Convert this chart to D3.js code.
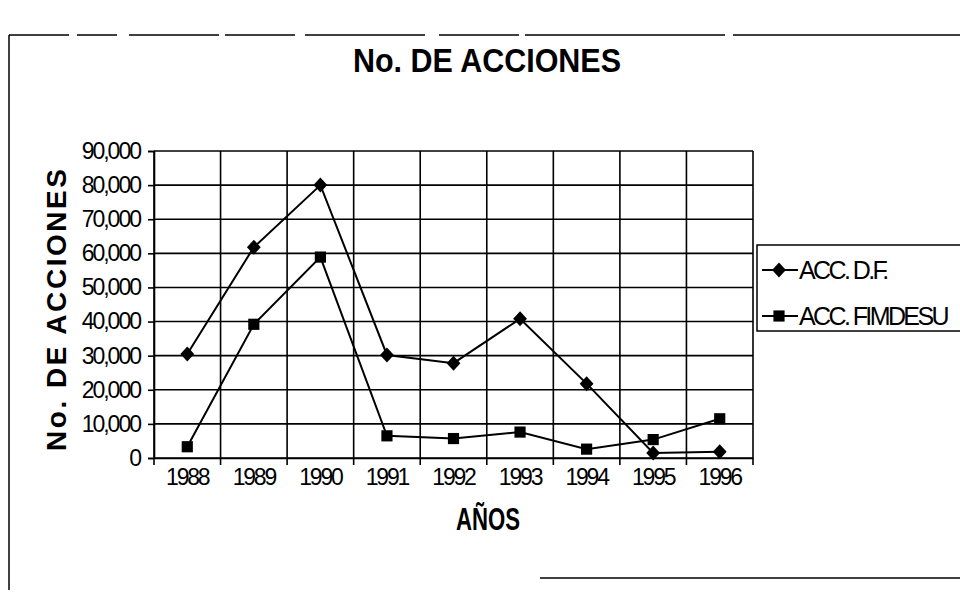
<!DOCTYPE html>
<html>
<head>
<meta charset="utf-8">
<script src="https://cdn.jsdelivr.net/npm/d3@7/dist/d3.min.js"></script>
<style>
  html, body { margin: 0; padding: 0; background: #fff; }
  svg { display: block; }
  text { font-family: "Liberation Sans", Arial, sans-serif; fill: #000; }
</style>
</head>
<body>
<svg id="chart" width="960" height="600"></svg>
<script>
// Years on the category axis
const years = ["1988", "1989", "1990", "1991", "1992", "1993", "1994", "1995", "1996"];
// Number of actions per year
const accDF = [30500, 61800, 80000, 30200, 27800, 40800, 21800, 1500, 1800];
const accFimdesu = [3300, 39200, 58900, 6500, 5700, 7600, 2600, 5400, 11500];
const seriesNames = ["ACC. D.F.", "ACC. FIMDESU"];
const yTicks = [0, 10000, 20000, 30000, 40000, 50000, 60000, 70000, 80000, 90000];

const svg = d3.select("#chart");
const plot = { left: 154, right: 753, top: 151, bottom: 458 };

const x = d3.scaleBand().domain(years).range([plot.left, plot.right]).padding(0);
const y = d3.scaleLinear().domain([0, 90000]).range([plot.bottom, plot.top]);

// Outer chart frame
const frame = svg.append("g").attr("stroke", "#000").attr("fill", "none").attr("stroke-width", 1.5);
frame.append("line").attr("x1", 9).attr("x2", 960).attr("y1", 35).attr("y2", 35)
  .attr("stroke-dasharray", "60 8 40 12 90 6 70 10 120 14 80 6 200 8 260");
frame.append("line").attr("x1", 9).attr("x2", 9).attr("y1", 35).attr("y2", 590);
frame.append("line").attr("x1", 540).attr("x2", 960).attr("y1", 578).attr("y2", 578);

// Title
svg.append("text").attr("x", 487).attr("y", 72).attr("text-anchor", "middle")
  .attr("font-size", 34).attr("font-weight", "bold")
  .attr("textLength", 268).attr("lengthAdjust", "spacingAndGlyphs")
  .text("No. DE ACCIONES");

// Horizontal gridlines
svg.append("g").selectAll("line").data(yTicks).join("line")
  .attr("x1", plot.left).attr("x2", plot.right)
  .attr("y1", d => y(d)).attr("y2", d => y(d))
  .attr("stroke", "#000").attr("stroke-width", 1.6);

// Vertical gridlines at category boundaries
const bounds = years.map(d => x(d)).concat([plot.right]);
svg.append("g").selectAll("line").data(bounds).join("line")
  .attr("x1", d => d).attr("x2", d => d)
  .attr("y1", plot.top).attr("y2", plot.bottom)
  .attr("stroke", "#000").attr("stroke-width", 1.6);

// Y axis
const yAxis = svg.append("g").attr("transform", `translate(${plot.left},0)`)
  .call(d3.axisLeft(y).tickValues(yTicks).tickSize(6).tickPadding(8)
    .tickFormat(d3.format(",")));
yAxis.select(".domain").attr("stroke-width", 1.6);
yAxis.selectAll(".tick line").attr("stroke-width", 1.6);
yAxis.selectAll("text").attr("font-size", 23).attr("letter-spacing", -2)
  .attr("font-family", "'Liberation Sans', Arial, sans-serif");

// X axis: ticks on category boundaries, labels centred on categories
const xAxis = svg.append("g").attr("transform", `translate(0,${plot.bottom})`)
  .call(d3.axisBottom(x).tickSize(0).tickPadding(2));
xAxis.select(".domain").attr("stroke-width", 1.6);
xAxis.selectAll("text").attr("font-size", 23).attr("letter-spacing", -2.2)
  .attr("dy", "1.1em")
  .attr("font-family", "'Liberation Sans', Arial, sans-serif");
svg.append("g").selectAll("line").data(bounds).join("line")
  .attr("x1", d => d).attr("x2", d => d)
  .attr("y1", plot.bottom).attr("y2", plot.bottom + 7)
  .attr("stroke", "#000").attr("stroke-width", 1.6);

// Axis titles
svg.append("text").attr("x", 488).attr("y", 530).attr("text-anchor", "middle")
  .attr("font-size", 31).attr("font-weight", "bold")
  .attr("textLength", 64).attr("lengthAdjust", "spacingAndGlyphs")
  .text("AÑOS");
svg.append("text").attr("transform", "translate(66,310) rotate(-90)")
  .attr("text-anchor", "middle").attr("font-size", 28).attr("font-weight", "bold")
  .attr("textLength", 282).attr("lengthAdjust", "spacing")
  .text("No. DE ACCIONES");

// Series lines and markers
const cx = d => x(d) + x.bandwidth() / 2;
const line = d3.line().x((v, i) => cx(years[i])).y(v => y(v));
// Rotated-square diamond, slightly taller than wide
const wideDiamond = {
  draw(ctx, size) {
    const h = Math.sqrt(size) * 0.75, w = h * 0.92;
    ctx.moveTo(0, -h); ctx.lineTo(w, 0); ctx.lineTo(0, h); ctx.lineTo(-w, 0); ctx.closePath();
  }
};
const diamond = d3.symbol().type(wideDiamond).size(100);
const square = d3.symbol().type(d3.symbolSquare).size(125);

[[accDF, diamond], [accFimdesu, square]].forEach(([vals, sym]) => {
  svg.append("path").datum(vals).attr("d", line)
    .attr("fill", "none").attr("stroke", "#000").attr("stroke-width", 2);
  svg.append("g").selectAll("path").data(vals).join("path")
    .attr("transform", (v, i) => `translate(${cx(years[i])},${y(v)})`)
    .attr("d", sym).attr("fill", "#000");
});

// Legend
const legend = svg.append("g");
legend.append("rect").attr("x", 757).attr("y", 245).attr("width", 240).attr("height", 86)
  .attr("fill", "none").attr("stroke", "#000").attr("stroke-width", 1.5);
[diamond, square].forEach((sym, i) => {
  const ly = 270 + i * 46;
  legend.append("line").attr("x1", 762).attr("x2", 798).attr("y1", ly).attr("y2", ly)
    .attr("stroke", "#000").attr("stroke-width", 2);
  legend.append("path").attr("transform", `translate(779,${ly})`)
    .attr("d", sym).attr("fill", "#000");
  legend.append("text").attr("x", 799).attr("y", ly + 9).attr("font-size", 25)
    .attr("letter-spacing", -2.6).text(seriesNames[i]);
});
</script>
</body>
</html>
